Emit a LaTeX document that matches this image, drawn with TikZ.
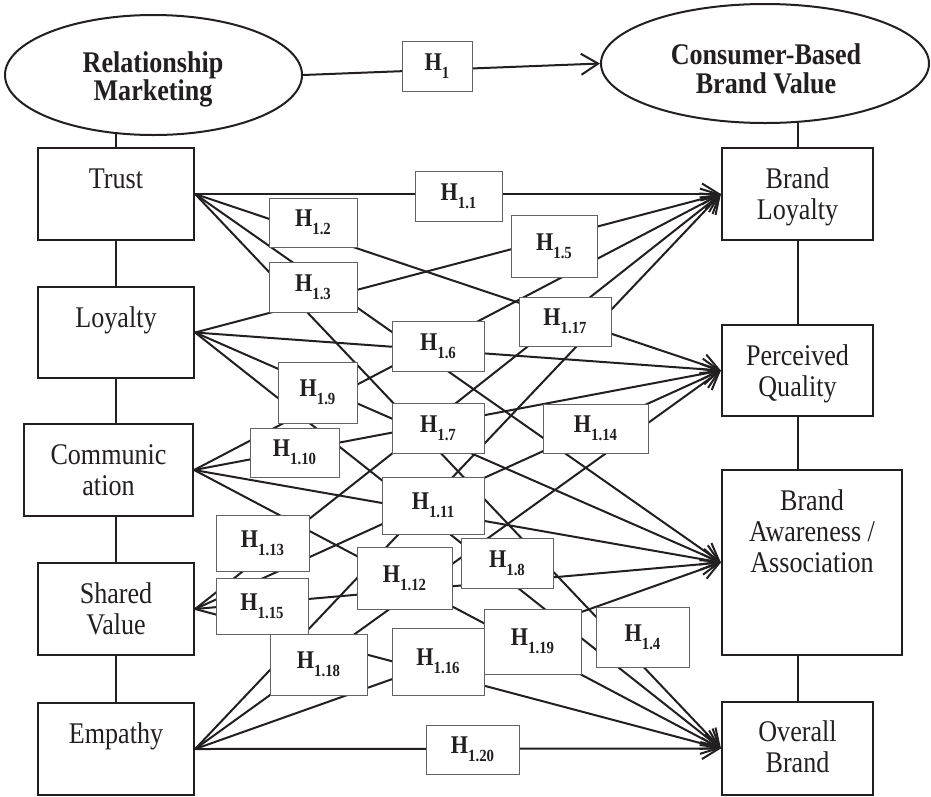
\documentclass[tikz,border=0pt]{standalone}
\usepackage{fontspec}
\setmainfont{Liberation Serif}[FakeStretch=0.87]
\usetikzlibrary{shapes.geometric,arrows.meta}
\definecolor{ink}{HTML}{231F20}
\newcommand{\hyp}[1]{H\raisebox{-8pt}{\fontsize{17}{17}\selectfont #1}}
\tikzset{
  conn/.style={draw=ink, line width=2pt},
  arr/.style={conn, -{Straight Barb[length=17pt,width=21pt]}},
  cbox/.style={draw=ink, line width=2.2pt, rectangle, inner sep=0pt},
  hbox/.style={draw=ink!70, line width=1pt, fill=white, rectangle, inner sep=0pt,
    font=\fontsize{25.5}{25.5}\selectfont\bfseries, text=ink},
  txt/.style={font=\fontsize{30}{30}\selectfont, text=ink, inner sep=0pt, anchor=base},
  btxt/.style={font=\fontsize{30}{30}\selectfont\bfseries, text=ink, inner sep=0pt, anchor=base},
  oval/.style={draw=ink, line width=2pt, ellipse, inner sep=0pt},
}
\begin{document}
\begin{tikzpicture}[x=1pt,y=-1pt]
\useasboundingbox (0,0) rectangle (931,796);
% top ellipses
\node[oval, minimum width=297pt, minimum height=120pt] (rm) at (153.5,75) {};
\node[oval, minimum width=328pt, minimum height=119pt] (cb) at (765,63.5) {};
\node[btxt] (rmA) at (153,72) {Relationship};
\node[btxt] (rmB) at (153,100) {Marketing};
\node[btxt] (cbA) at (766,64) {Consumer-Based};
\node[btxt] (cbB) at (766,93) {Brand Value};
% left boxes
\node[cbox, minimum width=156pt, minimum height=92pt] (trust) at (116,194) {};
\node[cbox, minimum width=156pt, minimum height=91pt] (loyal) at (116,332.5) {};
\node[cbox, minimum width=169pt, minimum height=92pt] (comm) at (108.5,470) {};
\node[cbox, minimum width=156pt, minimum height=92pt] (shared) at (116,609) {};
\node[cbox, minimum width=156pt, minimum height=92pt] (empathy) at (116,749) {};
% right boxes
\node[cbox, minimum width=151pt, minimum height=92pt] (bl) at (797.5,194) {};
\node[cbox, minimum width=151pt, minimum height=91pt] (pq) at (797.5,370.5) {};
\node[cbox, minimum width=180pt, minimum height=185pt] (baa) at (812,562.5) {};
\node[cbox, minimum width=151pt, minimum height=93pt] (ob) at (797.5,748.5) {};
% texts
\node[txt] (trustT) at (116,188) {Trust};
\node[txt] (loyalT) at (116,327) {Loyalty};
\node[txt] (commA) at (108.5,464) {Communic};
\node[txt] (commB) at (108.5,495) {ation};
\node[txt] (sharedA) at (116,603) {Shared};
\node[txt] (sharedB) at (116,634) {Value};
\node[txt] (empT) at (116,743) {Empathy};
\node[txt] (blA) at (797.5,188) {Brand};
\node[txt] (blB) at (797.5,219) {Loyalty};
\node[txt] (pqA) at (797.5,365) {Perceived};
\node[txt] (pqB) at (797.5,396) {Quality};
\node[txt] (baaA) at (812,510) {Brand};
\node[txt] (baaB) at (812,541) {Awareness /};
\node[txt] (baaC) at (812,572) {Association};
\node[txt] (obA) at (797.5,741) {Overall};
\node[txt] (obB) at (797.5,772) {Brand};
% vertical connectors
\draw[conn] (trust.north) -- (trust.north |- rm.-122);
\draw[conn] (bl.north) -- (bl.north |- cb.-60.5);
\draw[conn] (trust.south) -- (trust.south |- loyal.north);
\draw[conn] (loyal.south) -- (loyal.south |- comm.north);
\draw[conn] (loyal.south |- comm.south) -- (loyal.south |- shared.north);
\draw[conn] (shared.south) -- (shared.south |- empathy.north);
\draw[conn] (bl.south) -- (bl.south |- pq.north);
\draw[conn] (pq.south) -- (pq.south |- baa.north);
\draw[conn] (pq.south |- baa.south) -- (pq.south |- ob.north);
% H1
\draw[arr] (rm.east) -- (cb.west);
\node[hbox, minimum width=70pt, minimum height=50pt] (h1) at (437,66) {\hyp{1}};
% fan
\foreach \l in {trust,loyal,comm,shared,empathy}
  \foreach \r in {bl,pq,baa,ob}
    \draw[arr] (\l.east) -- (\r.west);
% hypothesis boxes
\node[hbox, minimum width=87pt, minimum height=50pt] (h11) at (458.5,196) {\hyp{1.1}};
\node[hbox, minimum width=88pt, minimum height=49pt] (h12) at (313,222.5) {\hyp{1.2}};
\node[hbox, minimum width=88pt, minimum height=50pt] (h13) at (313,287) {\hyp{1.3}};
\node[hbox, minimum width=93pt, minimum height=60pt] (h14) at (642.5,637) {\hyp{1.4}};
\node[hbox, minimum width=86pt, minimum height=62pt] (h15) at (554,246) {\hyp{1.5}};
\node[hbox, minimum width=92pt, minimum height=50pt] (h16) at (438,346) {\hyp{1.6}};
\node[hbox, minimum width=92pt, minimum height=50pt] (h17) at (438,428) {\hyp{1.7}};
\node[hbox, minimum width=92pt, minimum height=50pt] (h18) at (507,563) {\hyp{1.8}};
\node[hbox, minimum width=79pt, minimum height=61pt] (h19) at (317.5,392.5) {\hyp{1.9}};
\node[hbox, minimum width=89pt, minimum height=49pt] (h110) at (294.5,452.5) {\hyp{1.10}};
\node[hbox, minimum width=102pt, minimum height=57pt] (h111) at (433,505.5) {\hyp{1.11}};
\node[hbox, minimum width=95pt, minimum height=62pt] (h112) at (404.5,578) {\hyp{1.12}};
\node[hbox, minimum width=93pt, minimum height=56pt] (h113) at (262.5,543) {\hyp{1.13}};
\node[hbox, minimum width=105pt, minimum height=49pt] (h114) at (595.5,428.5) {\hyp{1.14}};
\node[hbox, minimum width=92pt, minimum height=56pt] (h115) at (262,606) {\hyp{1.15}};
\node[hbox, minimum width=92pt, minimum height=67pt] (h116) at (438,661.5) {\hyp{1.16}};
\node[hbox, minimum width=92pt, minimum height=49pt] (h117) at (565,321.5) {\hyp{1.17}};
\node[hbox, minimum width=97pt, minimum height=61pt] (h118) at (318.5,664.5) {\hyp{1.18}};
\node[hbox, minimum width=97pt, minimum height=65pt] (h119) at (532.5,641.5) {\hyp{1.19}};
\node[hbox, minimum width=93pt, minimum height=49pt] (h120) at (472.5,749.5) {\hyp{1.20}};
\end{tikzpicture}
\end{document}
